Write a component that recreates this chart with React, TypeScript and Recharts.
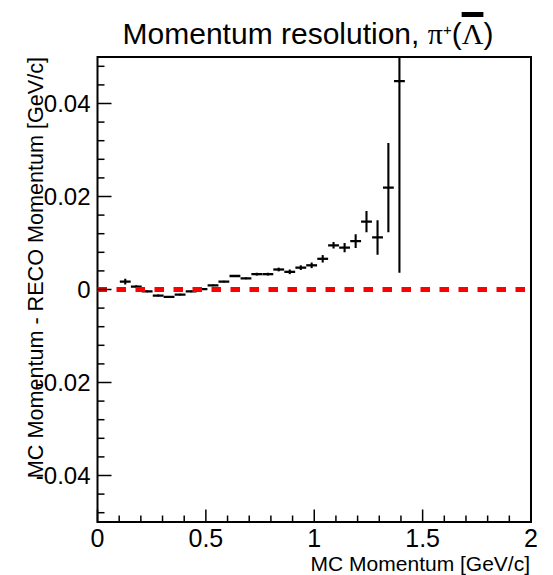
import React from 'react';
import {
  ScatterChart,
  Scatter,
  XAxis,
  YAxis,
  ErrorBar,
  ReferenceLine,
  ReferenceArea,
} from 'recharts';

// momentum bins (GeV/c) and the mean MC - RECO difference in each
const momentum = [
  0.128, 0.179, 0.229, 0.28, 0.33, 0.381, 0.432, 0.482, 0.533, 0.583, 0.634, 0.685, 0.735,
  0.786, 0.836, 0.887, 0.938, 0.988, 1.039, 1.089, 1.14, 1.191, 1.241, 1.292, 1.342, 1.393,
];
const resolution = [
  0.0017, 0.0006, -0.0004, -0.0013, -0.0016, -0.0011, -0.0004, 0.0001, 0.0009, 0.0017, 0.0029,
  0.0024, 0.0033, 0.0033, 0.0043, 0.0038, 0.0047, 0.0052, 0.0066, 0.0095, 0.009, 0.0104, 0.0146,
  0.0112, 0.0219, 0.0448,
];
const momentumErr = [
  0.025, 0.025, 0.025, 0.025, 0.025, 0.025, 0.025, 0.025, 0.025, 0.025, 0.025, 0.025, 0.025,
  0.025, 0.025, 0.025, 0.025, 0.025, 0.025, 0.025, 0.025, 0.025, 0.025, 0.025, 0.025, 0.025,
];
const resolutionErr = [
  0.0006, 0.0003, 0.0002, 0.0002, 0.0002, 0.0002, 0.0002, 0.0002, 0.0002, 0.0002, 0.0002,
  0.0002, 0.0003, 0.0003, 0.0004, 0.0005, 0.0005, 0.0006, 0.0008, 0.0007, 0.001, 0.0015, 0.0023,
  0.0037, 0.0096, 0.0412,
];

const xTicks = [
  0, 0.1, 0.2, 0.3, 0.4, 0.5, 0.6, 0.7, 0.8, 0.9, 1, 1.1, 1.2, 1.3, 1.4, 1.5, 1.6, 1.7, 1.8,
  1.9, 2,
];
const yTicks = [
  -0.048, -0.044, -0.04, -0.036, -0.032, -0.028, -0.024, -0.02, -0.016, -0.012, -0.008, -0.004,
  0, 0.004, 0.008, 0.012, 0.016, 0.02, 0.024, 0.028, 0.032, 0.036, 0.04, 0.044, 0.048,
];

const data = momentum.map((x, i) => ({
  x,
  y: resolution[i],
  ex: momentumErr[i],
  ey: resolutionErr[i],
}));

const FONT = '"Liberation Sans", Arial, Helvetica, sans-serif';

const isMajor = (v: number, step: number) => Math.abs(v / step - Math.round(v / step)) < 1e-6;

const XTick = (props: any) => {
  const { x, y, payload } = props;
  const major = isMajor(payload.value, 0.5);
  return (
    <g>
      <line x1={x} x2={x} y1={y} y2={y - (major ? 12.5 : 6.5)} stroke="#000" strokeWidth={1.5} />
      {major && (
        <text x={x} y={y + 25} textAnchor="middle" fontSize={25} fontFamily={FONT} fill="#000">
          {String(payload.value)}
        </text>
      )}
    </g>
  );
};

const YTick = (props: any) => {
  const { x, y, payload } = props;
  const major = isMajor(payload.value, 0.02);
  return (
    <g>
      <line x1={x} x2={x + (major ? 14 : 7)} y1={y} y2={y} stroke="#000" strokeWidth={1.5} />
      {major && (
        <text x={x - 7} y={y + 8.5} textAnchor="end" fontSize={24} fontFamily={FONT} fill="#000">
          {String(payload.value)}
        </text>
      )}
    </g>
  );
};

const NoMarker = () => <g />;

export default function App() {
  return (
    <div style={{ position: 'absolute', left: 0, top: 0, width: 553, height: 575, background: '#fff' }}>
      {/* keep the error bars inside the frame, like the original canvas does */}
      <style>{'.recharts-errorBars { clip-path: url(#plotClip); }'}</style>
      <div
        style={{
          position: 'absolute',
          left: 0,
          top: 8,
          width: 616,
          textAlign: 'center',
          fontFamily: FONT,
          fontSize: 30,
          lineHeight: '44px',
          color: '#000',
          whiteSpace: 'nowrap',
        }}
      >
        Momentum resolution,{' '}
        <span style={{ fontFamily: '"Liberation Serif", serif' }}>π</span>
        <sup style={{ fontSize: 15, verticalAlign: 9 }}>+</sup>(
        <span
          style={{
            fontFamily: '"Liberation Serif", serif',
            textDecorationLine: 'overline',
            textDecorationThickness: 5,
          }}
        >
          Λ
        </span>
        )
      </div>
      <ScatterChart width={553} height={575} margin={{ top: 57, right: 22, bottom: 0, left: 0 }}>
        <XAxis
          type="number"
          dataKey="x"
          domain={[0, 2]}
          ticks={xTicks}
          interval={0}
          allowDataOverflow
          axisLine={false}
          tickLine={false}
          tickSize={0}
          tickMargin={0}
          height={53}
          tick={<XTick />}
        />
        <YAxis
          type="number"
          dataKey="y"
          domain={[-0.05, 0.05]}
          ticks={yTicks}
          interval={0}
          allowDataOverflow
          axisLine={false}
          tickLine={false}
          tickSize={0}
          tickMargin={0}
          width={97.5}
          tick={<YTick />}
        />
        <ReferenceArea
          x1={0}
          x2={2}
          y1={-0.05}
          y2={0.05}
          fill="none"
          stroke="#000"
          strokeWidth={2}
          ifOverflow="visible"
        />
        <Scatter data={data} shape={<NoMarker />} isAnimationActive={false}>
          <ErrorBar dataKey="ex" direction="x" width={0} stroke="#000" strokeWidth={2.3} isAnimationActive={false} />
          <ErrorBar dataKey="ey" direction="y" width={0} stroke="#000" strokeWidth={2.1} isAnimationActive={false} />
        </Scatter>
        <ReferenceLine y={0} stroke="#ff0000" strokeWidth={4.8} strokeDasharray="9.5 9.5" />
      </ScatterChart>
      <svg
        width={553}
        height={575}
        style={{ position: 'absolute', left: 0, top: 0, pointerEvents: 'none' }}
      >
        <defs>
          <clipPath id="plotClip" clipPathUnits="userSpaceOnUse">
            <rect x={97.5} y={57} width={433} height={465} />
          </clipPath>
        </defs>
        <text
          transform="translate(43,57) rotate(-90)"
          textAnchor="end"
          fontSize={21.6}
          fontFamily={FONT}
          fill="#000"
        >
          MC Momentum - RECO Momentum [GeV/c]
        </text>
        <text x={530} y={571} textAnchor="end" fontSize={21} fontFamily={FONT} fill="#000">
          MC Momentum [GeV/c]
        </text>
      </svg>
    </div>
  );
}
